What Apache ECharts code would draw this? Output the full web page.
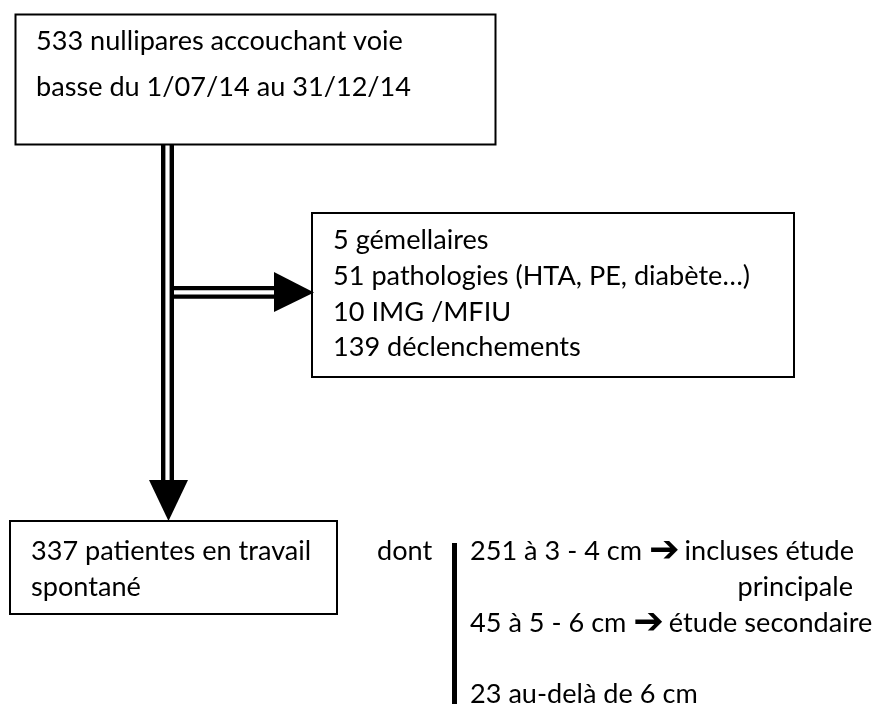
<!DOCTYPE html>
<html>
<head>
<meta charset="utf-8">
<script src="https://cdn.jsdelivr.net/npm/echarts@6/dist/echarts.min.js"></script>
<style>
html,body{margin:0;padding:0;background:#ffffff;}
#chart{width:875px;height:704px;}
</style>
</head>
<body>
<div id="chart"></div>
<script>
// ---- data (text content and counts of the flowchart) ----
const sourceCount = 533;
const sourceLines = ['nullipares accouchant voie', 'basse du 1/07/14 au 31/12/14'];
const excludedCounts = [5, 51, 10, 139];
const excludedLabels = ['gémellaires', 'pathologies (HTA, PE, diabète…)', 'IMG /MFIU', 'déclenchements'];
const includedCount = 337;
const includedLines = ['patientes en travail', 'spontané'];
const subgroupWord = 'dont';
const subgroupCounts = [251, 45, 23];
const subgroupRanges = ['à 3 - 4 cm', 'à 5 - 6 cm', 'au-delà de 6 cm'];
const subgroupOutcomes = [['incluses étude', 'principale'], ['étude secondaire'], []];
const arrowGlyph = '\u2794';

// ---- layout ----
const FONT_FAMILY = 'Lato, "Open Sans", sans-serif';
const ARROW_FAMILY = '"DejaVu Sans", sans-serif';
const ctx = document.createElement('canvas').getContext('2d');
function measure(str, font) { ctx.font = font; return ctx.measureText(str).width; }
const S = 100 * 367 / measure(sourceCount + ' ' + sourceLines[0], '100px ' + FONT_FAMILY);
const MAIN_FONT = S.toFixed(2) + 'px ' + FONT_FAMILY;
const AS = S * 1.35;
const ARROW_FONT = 'bold ' + AS.toFixed(2) + 'px ' + ARROW_FAMILY;
const ARROW_SHIFT = 0.346 * AS - 0.25 * (AS - S);
const LH = 35.7;
const BASE_SHIFT = 0.387 * S;
const INK = '#000000';

const els = [];
function txt(str, x, baseline, align, font, shift) {
  const f = font || MAIN_FONT;
  els.push({
    type: 'text', x: x, y: baseline - (shift == null ? BASE_SHIFT : shift), silent: true,
    style: {
      text: str, fill: INK, font: f,
      align: align || 'left', textAlign: align || 'left',
      verticalAlign: 'middle', textVerticalAlign: 'middle'
    }
  });
}
function box(x, y, w, h) {
  els.push({ type: 'rect', shape: { x: x, y: y, width: w, height: h },
    style: { fill: 'rgba(0,0,0,0)', stroke: INK, lineWidth: 2 } });
}
function bar(x, y, w, h) {
  els.push({ type: 'rect', shape: { x: x, y: y, width: w, height: h }, style: { fill: INK } });
}
function tri(points) {
  els.push({ type: 'polygon', shape: { points: points }, style: { fill: INK } });
}

// top box
box(15.5, 14.5, 480, 130);
txt(sourceCount + ' ' + sourceLines[0], 36, 52);
txt(sourceLines[1], 36, 52 + 46);

// vertical double arrow
bar(161, 145, 4.4, 336);
bar(169.6, 145, 4.4, 336);
tri([[149, 480], [188, 480], [168.5, 521]]);

// horizontal double arrow
bar(174, 286, 100, 4.2);
bar(174, 294.6, 100, 4.2);
tri([[274, 272], [274, 312], [314, 292.4]]);

// exclusion box
box(312, 213, 482, 164);
excludedCounts.forEach(function (c, i) {
  txt(c + ' ' + excludedLabels[i], 333, 251 + i * LH);
});

// included box
box(10, 521, 327, 93);
txt(includedCount + ' ' + includedLines[0], 31, 562);
txt(includedLines[1], 31, 562 + LH);

// subgroups
txt(subgroupWord, 377, 562);
bar(452, 543, 5, 161);
let row = 0;
const spaceW = measure(' ', MAIN_FONT);
subgroupCounts.forEach(function (c, i) {
  if (i === 2) row += 1; // blank line before last group
  const outs = subgroupOutcomes[i];
  const base = 562 + row * LH;
  const prefix = c + ' ' + subgroupRanges[i];
  txt(prefix, 470, base);
  if (outs.length) {
    const ax = 470 + measure(prefix, MAIN_FONT) + spaceW;
    txt(arrowGlyph, ax, base, 'left', ARROW_FONT, ARROW_SHIFT);
    const sx = ax + measure(arrowGlyph, ARROW_FONT) + spaceW * 0.7;
    txt(outs[0], sx, base);
  }
  row += 1;
  for (let k = 1; k < outs.length; k++) {
    txt(outs[k], 853, 562 + row * LH, 'right');
    row += 1;
  }
});

const chart = echarts.init(document.getElementById('chart'), null, { renderer: 'canvas' });
chart.setOption({
  animation: false,
  backgroundColor: '#ffffff',
  graphic: { elements: els }
});
</script>
</body>
</html>
